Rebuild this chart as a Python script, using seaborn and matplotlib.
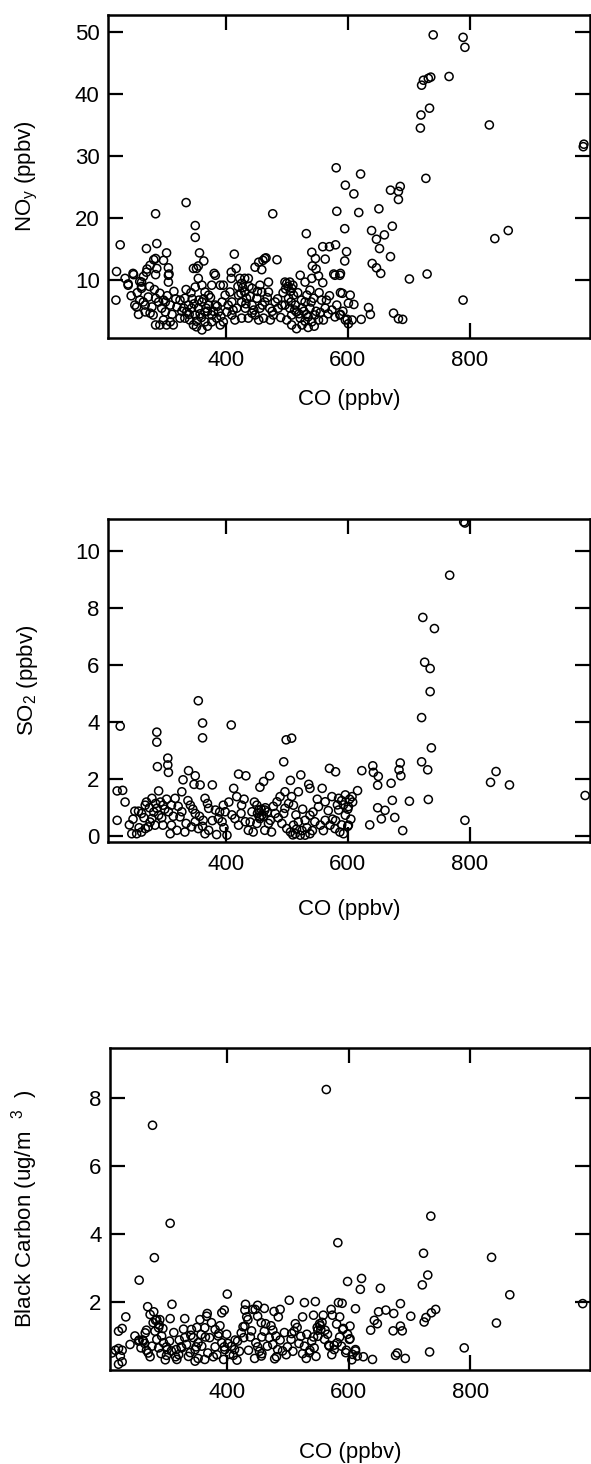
import numpy as np
import pandas as pd
import matplotlib
matplotlib.use("Agg")
import matplotlib.pyplot as plt
import seaborn as sns

# --- panel 1: NOy vs CO ---
co_noy = [740, 789, 792, 721, 724, 732, 736, 766, 734, 720, 719, 832, 986, 987, 728, 621, 596, 610, 618, 651,
          670, 686, 683, 683, 841, 863, 595, 639, 647, 660, 673, 652, 670, 598, 595, 640, 647, 654, 701, 730,
          789, 604, 601, 610, 634, 637, 675, 683, 690, 622, 599, 588, 591, 588,
          581, 582, 335, 285, 477, 350, 350, 532, 227, 270, 287, 303, 357, 414, 541, 559, 570, 580, 547, 563,
          466, 461, 484, 364, 355, 347, 282, 276, 271, 306, 307, 285, 265, 259, 262, 221, 235, 240, 248, 315,
          220, 381, 409, 417, 448, 459, 522, 542, 548, 552, 559, 577, 588,
          240, 249, 251, 257, 262, 262, 265, 268, 270, 279, 285, 287, 290, 292, 298, 301, 306, 306, 309, 285,
          292, 298, 303, 309, 314, 276, 281, 254, 259, 273, 285, 298, 301, 320, 325, 325,
          352, 355, 361, 350, 366, 372, 383, 391, 396, 377, 333, 339, 336, 344, 350, 355, 361, 366, 372, 377,
          383, 388, 394, 399, 341, 347, 352, 361, 391, 396, 333, 331, 366, 377, 385,
          409, 423, 431, 437, 426, 454, 464, 456, 470, 459, 470, 431, 443, 421, 410, 418, 426, 434, 443, 451,
          456, 464, 472, 481, 478, 410, 415, 426, 437, 448, 454, 462, 473, 402, 407, 443, 432,
          486, 492, 497, 500, 505, 508, 511, 503, 497, 505, 514, 516, 508, 500, 508, 516, 525, 522, 525, 530,
          533, 530, 541, 538, 544, 538, 546, 552, 560, 541, 535, 557, 565, 563, 574, 579, 587, 596, 579, 587,
          607, 601, 502, 510, 506, 498, 428, 438, 425, 440, 345, 356, 368, 352, 360, 340, 370, 380, 520, 530,
          545, 555, 535, 528,
          245, 255, 268, 275, 283, 295, 304, 312, 318, 328, 335, 343, 348, 358, 364, 370, 375, 386, 392, 404,
          412, 420, 433, 446, 452, 460, 468, 476, 485, 490, 494, 507, 513, 518, 524, 532, 540, 548, 553, 568,
          570, 582, 592]
noy = [49.5, 49.1, 47.5, 41.4, 42.2, 42.5, 42.7, 42.8, 37.7, 36.6, 34.5, 35.0, 31.5, 31.9, 26.4, 27.1, 25.3, 23.9, 20.9, 21.5,
       24.5, 25.1, 24.3, 23.0, 16.7, 18.0, 18.3, 18.0, 16.6, 17.3, 18.7, 15.1, 13.8, 14.6, 13.1, 12.7, 12.0, 11.1, 10.2, 11.0,
       6.8, 7.6, 6.3, 6.1, 5.6, 4.5, 4.7, 3.8, 3.7, 3.7, 3.7, 4.5, 7.9, 11.1,
       28.1, 21.1, 22.5, 20.7, 20.7, 18.8, 16.9, 17.5, 15.7, 15.1, 15.9, 14.4, 14.4, 14.2, 14.5, 15.4, 15.4, 15.7, 13.5, 13.4,
       13.6, 13.2, 13.3, 13.1, 12.3, 11.9, 13.3, 12.4, 11.8, 12.0, 11.0, 10.9, 10.6, 9.8, 9.0, 11.4, 10.3, 9.4, 11.1, 8.2,
       6.8, 11.1, 11.3, 11.9, 12.1, 11.7, 10.8, 12.3, 11.8, 10.7, 9.6, 11.0, 8.0,
       9.2, 10.9, 6.0, 4.5, 9.7, 8.7, 6.5, 4.9, 11.3, 5.7, 13.5, 11.9, 6.5, 7.9, 13.2, 6.5, 10.8, 9.7, 6.0, 2.8,
       2.8, 3.6, 2.8, 3.3, 2.8, 4.7, 4.4, 5.7, 6.8, 7.3, 7.1, 6.8, 4.9, 5.7, 3.9, 6.8,
       11.9, 10.3, 9.2, 8.9, 8.1, 7.6, 10.8, 9.2, 9.2, 9.2, 7.1, 6.0, 4.9, 5.5, 4.4, 5.5, 6.5, 4.9, 6.0, 4.4,
       6.0, 4.9, 6.5, 7.6, 3.6, 2.8, 2.5, 2.0, 2.8, 3.3, 3.9, 5.5, 3.3, 3.3, 3.9,
       10.3, 10.3, 10.3, 10.3, 9.5, 12.9, 13.5, 9.2, 9.7, 8.1, 8.1, 8.1, 8.7, 7.6, 6.5, 5.5, 6.5, 7.1, 6.0, 7.1,
       5.5, 6.5, 5.5, 6.5, 4.4, 4.4, 3.6, 3.9, 3.9, 4.4, 3.6, 3.9, 3.6, 4.9, 8.1, 4.7, 5.5,
       5.5, 6.0, 9.7, 9.5, 9.7, 8.7, 7.6, 7.1, 6.0, 5.5, 6.0, 4.9, 4.4, 3.6, 2.8, 2.2, 2.8, 3.9, 5.5, 6.5,
       7.6, 9.7, 10.3, 8.4, 7.1, 5.5, 4.4, 3.6, 3.6, 3.3, 4.1, 6.8, 6.8, 5.5, 5.2, 4.1, 4.4, 3.6, 10.8, 10.8,
       3.6, 3.0, 9.0, 9.2, 8.2, 8.6, 8.8, 9.0, 7.9, 7.4, 7.0, 6.8, 5.5, 3.4, 4.0, 4.5, 2.6, 5.0, 4.6, 3.4,
       2.6, 4.8, 2.4, 5.0,
       7.5, 8.0, 6.0, 9.0, 8.5, 5.5, 7.5, 4.5, 7.0, 5.0, 8.5, 8.0, 6.2, 4.6, 7.0, 5.0, 7.2, 5.8, 4.2, 6.0,
       5.2, 9.0, 6.2, 5.2, 8.2, 6.0, 7.2, 5.0, 7.0, 4.0, 8.0, 6.5, 5.2, 8.0, 6.8, 4.5, 6.5, 5.0, 8.0, 4.6,
       7.5, 6.0, 5.0]

# --- panel 2: SO2 vs CO ---
co_so2 = [792, 790, 767, 723, 742, 726, 735, 735, 721, 737, 721, 731, 732, 792, 834, 843, 865, 989, 355, 362,
          362, 409, 227, 287, 287, 499, 508, 495, 570, 580, 623, 641, 642, 650, 649, 671, 686, 684, 687, 701,
          673, 649, 661, 655, 677, 636, 288, 305, 305, 306, 330, 339, 350, 348, 358, 378, 421, 433, 472, 523,
          506, 222, 231, 235, 222, 242, 690, 616, 596, 603, 608, 593, 600, 590, 580, 600,
          462, 456, 536, 538, 558, 574, 585, 607, 601,
          290, 279, 268, 251, 257, 262, 246, 254, 262, 273, 284, 297, 311, 287, 290, 297, 306, 311, 317, 328,
          328, 325, 342, 350, 350, 344, 333, 355, 363, 366, 372, 383, 388, 394, 385, 402, 396, 399, 413, 418,
          415, 421, 426, 432, 437, 445, 443, 451, 454, 459, 464, 456, 451, 473, 481, 484, 489, 497, 497, 492,
          500, 506, 514, 522, 530, 538, 511, 519, 530, 538, 546, 555, 563, 571, 579, 587, 593, 601, 511, 508,
          519, 552, 563, 585, 596, 279, 268, 309, 320, 366, 372, 464, 475,
          452, 458, 462, 468, 455, 465, 516, 525, 533, 510, 542, 275, 282, 293, 300, 270,
          248, 258, 266, 276, 285, 295, 303, 314, 322, 335, 338, 346, 357, 362, 370, 378, 390, 397, 405, 410,
          425, 430, 440, 447, 470, 478, 486, 495, 503, 515, 526, 543, 550, 560, 568, 575, 583, 590, 605]
so2 = [10.98, 11.02, 9.15, 7.67, 7.28, 6.1, 5.88, 5.07, 4.16, 3.1, 2.61, 2.33, 1.29, 0.56, 1.89, 2.27, 1.80, 1.43, 4.75, 3.97,
       3.45, 3.9, 3.86, 3.65, 3.3, 3.38, 3.44, 2.61, 2.38, 2.26, 2.30, 2.47, 2.24, 2.1, 1.79, 1.86, 2.57, 2.33, 2.12, 1.23,
       1.26, 1.0, 0.91, 0.61, 0.66, 0.4, 2.44, 2.74, 2.5, 2.24, 1.98, 2.3, 2.12, 1.82, 1.8, 1.8, 2.18, 2.12, 2.12, 2.15,
       1.96, 1.59, 1.61, 1.2, 0.56, 0.4, 0.2, 1.6, 1.45, 1.3, 1.2, 1.1, 0.95, 1.25, 0.55, 0.35,
       1.92, 1.72, 1.82, 1.68, 1.68, 1.39, 1.33, 1.39, 1.04,
       1.59, 1.33, 1.09, 0.88, 0.88, 0.8, 0.09, 0.09, 0.15, 0.33, 0.39, 0.39, 0.39, 0.98, 0.74, 1.09, 0.86, 1.09, 1.33, 1.56,
       0.86, 0.68, 1.09, 0.8, 0.51, 0.33, 0.15, 0.27, 0.56, 1.33, 0.98, 0.92, 0.62, 0.51, 0.06, 0.04, 1.09, 0.86, 1.68, 1.39,
       0.62, 0.39, 1.09, 0.51, 0.21, 0.15, 0.86, 1.09, 0.92, 0.74, 0.92, 0.62, 0.45, 0.56, 0.8, 1.21, 1.39, 1.56, 0.98, 0.45,
       0.27, 0.15, 0.09, 0.04, 0.04, 0.09, 0.39, 0.51, 0.56, 0.74, 0.51, 0.39, 0.56, 0.39, 0.27, 0.15, 0.09, 0.39, 1.09, 1.39,
       1.56, 1.04, 1.21, 0.92, 0.74, 0.62, 0.27, 0.09, 0.21, 0.09, 0.21, 0.21, 0.15,
       0.8, 0.95, 0.7, 0.85, 0.68, 1.0, 0.25, 0.2, 0.3, 0.05, 0.2, 1.0, 0.85, 1.2, 0.95, 1.2,
       0.6, 0.3, 0.65, 0.5, 1.15, 0.65, 1.3, 0.7, 1.05, 0.45, 1.25, 0.95, 0.7, 0.35, 1.15, 0.55, 0.85, 0.3, 1.2, 0.75,
       0.8, 1.3, 0.5, 1.2, 0.45, 1.05, 0.65, 0.8, 1.15, 0.75, 0.95, 0.85, 1.3, 0.2, 0.9, 0.6, 1.1, 0.4, 0.6]

# --- panel 3: black carbon vs CO ---
co_bc = [563, 277, 306, 280, 255, 735, 582, 723, 835, 730, 721, 598, 621, 619, 652, 865, 685, 985, 400, 309,
         269, 502, 527, 545, 583, 589, 430, 446, 461, 477, 487, 571, 611, 743,
         843, 790, 733, 693, 680, 677, 639, 624, 611, 596, 736, 727, 724, 702, 685, 673, 688, 674, 661, 649,
         642, 636, 647, 602, 602, 591, 585, 576, 567, 552, 549, 542, 561, 558, 573, 585, 542, 524, 512, 506,
         518, 524, 530, 536, 499, 487, 481, 475, 463, 457, 450, 457, 445, 435, 438, 426, 432, 429, 450, 484,
         413, 410, 416, 401, 395, 395, 386, 380, 377, 367, 364, 352, 349, 340, 330, 324, 315, 306, 300, 291,
         288, 294, 282, 279, 267, 267, 261, 255, 264, 233, 227, 221, 216, 227, 227, 273, 300, 321,
         273, 278, 284, 289, 287, 281, 254, 262, 265, 276, 287, 295, 301, 308, 316, 325, 333, 339, 347, 352,
         357, 363, 366, 374, 380, 385, 391, 396, 404, 412, 417, 423, 429, 434, 442, 450, 456, 461, 469, 475,
         483, 491, 505, 510, 521, 527, 535, 543, 549, 554, 560, 568, 576, 581, 590, 601, 595, 606, 614, 611,
         221, 210, 224, 221, 391, 330, 341, 317, 347, 363, 394, 456, 478, 355, 548, 553, 556,
         240, 248, 258, 270, 284, 292, 298, 305, 312, 320, 328, 336, 344, 350, 358, 368, 371, 383, 388, 399,
         407, 420, 427, 440, 447, 453, 466, 472, 480, 494, 497, 508, 515, 531, 539, 546, 565, 572, 580, 588,
         598, 605]
bc = [8.24, 7.19, 4.31, 3.30, 2.64, 4.52, 3.74, 3.43, 3.31, 2.79, 2.50, 2.60, 2.69, 2.37, 2.40, 2.21, 1.95, 1.95, 2.23, 1.93,
      1.86, 2.05, 1.98, 2.01, 1.98, 1.96, 1.93, 1.78, 1.81, 1.72, 1.78, 1.78, 1.8, 1.78,
      1.38, 0.65, 0.53, 0.34, 0.5, 0.43, 0.31, 0.39, 0.56, 0.58, 1.68, 1.54, 1.41, 1.58, 1.29, 1.15, 1.15, 1.66, 1.76, 1.71,
      1.46, 1.17, 1.36, 1.29, 0.92, 1.22, 0.97, 0.73, 0.73, 1.36, 1.17, 0.97, 1.17, 1.61, 1.61, 1.56, 1.61, 1.56, 1.36, 1.07,
      0.78, 0.48, 0.34, 0.58, 0.68, 0.88, 0.39, 1.17, 1.36, 0.97, 0.68, 0.48, 0.34, 0.58, 0.97, 1.27, 1.56, 1.76, 1.9, 1.56,
      0.88, 0.43, 0.29, 0.78, 1.76, 0.68, 1.07, 0.68, 0.39, 1.66, 0.97, 0.34, 0.68, 1.02, 1.51, 0.68, 0.39, 1.51, 0.68, 0.48,
      1.32, 1.22, 1.46, 1.71, 1.17, 0.58, 0.88, 0.88, 0.78, 1.56, 1.22, 0.63, 0.58, 0.58, 0.24, 0.39, 0.43, 0.88,
      1.63, 1.39, 1.48, 1.48, 1.24, 1.14, 0.85, 0.85, 1.09, 0.7, 0.65, 0.8, 0.6, 0.56, 0.6, 0.65, 0.75, 0.51, 0.6, 0.8,
      1.04, 1.24, 1.58, 1.39, 1.19, 1.0, 0.8, 0.6, 0.46, 0.6, 0.85, 1.09, 1.29, 1.48, 1.78, 1.58, 1.39, 1.14, 0.95, 0.75,
      0.6, 0.56, 0.9, 1.14, 0.99, 0.7, 0.51, 0.65, 0.99, 1.19, 0.9, 0.7, 0.6, 0.8, 1.19, 0.9, 0.51, 0.46, 0.41, 0.6,
      1.14, 0.5, 0.41, 0.17, 1.68, 0.95, 1.19, 0.31, 0.26, 0.31, 0.31, 0.41, 0.33, 1.48, 1.25, 1.3, 1.4,
      0.75, 1.0, 0.65, 0.5, 0.9, 1.0, 0.3, 0.85, 1.1, 0.45, 1.2, 0.4, 0.95, 1.25, 0.7, 0.5, 0.95, 0.45, 1.3, 1.05,
      0.7, 0.55, 0.95, 1.15, 0.8, 0.55, 0.7, 1.3, 1.0, 1.1, 0.45, 0.55, 1.25, 1.05, 0.85, 0.4, 1.05, 0.45, 1.35, 0.7,
      1.05, 0.3]

panels = [
    (co_noy, noy, r"NO$_\mathregular{y}$ (ppbv)", (0.7, 52.7), [10, 20, 30, 40, 50]),
    (co_so2, so2, r"SO$_\mathregular{2}$ (ppbv)", (-0.2, 11.12), [0, 2, 4, 6, 8, 10]),
    (co_bc, bc, r"Black Carbon (ug/m  $^\mathregular{3}$  )", (0.0, 9.46), [2, 4, 6, 8]),
]

sns.set_style("ticks")
plt.rcParams["font.family"] = ["Liberation Sans", "DejaVu Sans"]
plt.rcParams["mathtext.fontset"] = "custom"
plt.rcParams["mathtext.rm"] = "Liberation Sans"
plt.rcParams["text.color"] = "black"
plt.rcParams["axes.labelcolor"] = "black"

fig = plt.figure(figsize=(5.91, 14.64), dpi=100)
W, H = 591, 1464
# axes boxes in pixels: left, top, right, bottom
boxes = [(108, 15, 590, 338), (108, 519, 590, 842), (110, 1048, 590, 1370)]
xlab_top = [389, 899, 1442]

for (x, y, ylab, ylim, yticks), (l, t, r, b), xt in zip(panels, boxes, xlab_top):
    ax = fig.add_axes([l / W, 1 - b / H, (r - l) / W, (b - t) / H])
    df = pd.DataFrame({"CO": x, "val": y})
    sns.scatterplot(data=df, x="CO", y="val", ax=ax, s=34, marker="o",
                    facecolor="none", edgecolor="black", linewidth=1.1)
    ax.set_xlim(207, 997)
    ax.set_ylim(*ylim)
    ax.set_xticks([400, 600, 800])
    ax.set_yticks(yticks)
    ax.tick_params(direction="in", length=11, width=1.6, top=True, right=True,
                   labelsize=16, pad=6, colors="black")
    ax.tick_params(axis="x", pad=9)
    for sp in ax.spines.values():
        sp.set_linewidth(1.8)
        sp.set_color("black")
    ax.set_xlabel("CO (ppbv)", fontsize=16, color="black")
    ax.set_ylabel(ylab, fontsize=16, color="black")
    ax.xaxis.set_label_coords(0.5, (b - xt) / (b - t))
    ax.yaxis.set_label_coords((40 - l) / (r - l), 0.5)

fig.savefig("out.png", dpi=100)
